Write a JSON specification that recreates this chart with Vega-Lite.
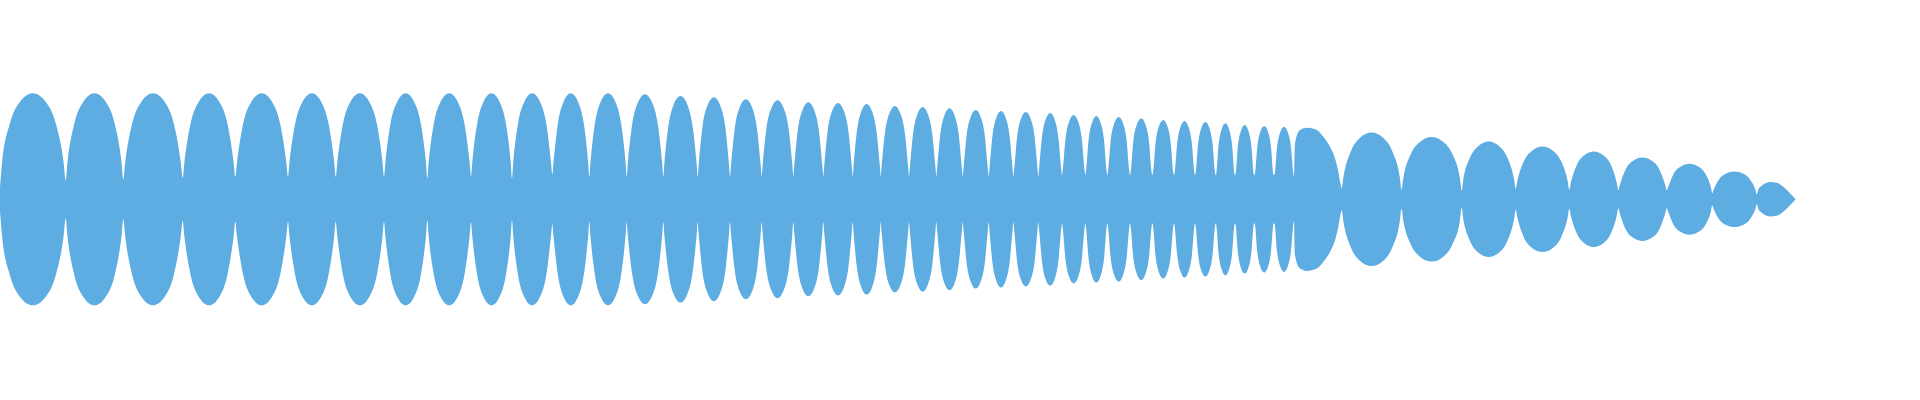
{
  "$schema": "https://vega.github.io/schema/vega-lite/v6.json",
  "width": 1920,
  "height": 400,
  "autosize": {"type": "none"},
  "padding": 0,
  "config": {"view": {"stroke": null}},
  "data": {
    "values": [
      {"x": 0, "amp": 24},
      {"x": 2.0, "amp": 72.3}, {"x": 9.9, "amp": 151.4}, {"x": 19.7, "amp": 194.3}, {"x": 32.9, "amp": 212}, {"x": 46.0, "amp": 194.3}, {"x": 55.8, "amp": 151.4}, {"x": 63.7, "amp": 72.3},
      {"x": 65.7, "amp": 38},
      {"x": 67.4, "amp": 72.3}, {"x": 74.3, "amp": 151.4}, {"x": 83.0, "amp": 194.3}, {"x": 94.5, "amp": 212}, {"x": 106.0, "amp": 194.3}, {"x": 114.7, "amp": 151.4}, {"x": 121.6, "amp": 72.3},
      {"x": 123.3, "amp": 40},
      {"x": 125.1, "amp": 72.3}, {"x": 132.2, "amp": 151.4}, {"x": 141.1, "amp": 194.3}, {"x": 153.0, "amp": 212}, {"x": 164.9, "amp": 194.3}, {"x": 173.8, "amp": 151.4}, {"x": 180.9, "amp": 72.3},
      {"x": 182.7, "amp": 43},
      {"x": 184.3, "amp": 72.3}, {"x": 190.6, "amp": 151.4}, {"x": 198.5, "amp": 194.3}, {"x": 209.0, "amp": 212}, {"x": 219.5, "amp": 194.3}, {"x": 227.4, "amp": 151.4}, {"x": 233.7, "amp": 72.3},
      {"x": 235.3, "amp": 45},
      {"x": 236.9, "amp": 72.3}, {"x": 243.2, "amp": 151.4}, {"x": 251.1, "amp": 194.3}, {"x": 261.7, "amp": 212}, {"x": 272.2, "amp": 194.3}, {"x": 280.1, "amp": 151.4}, {"x": 286.4, "amp": 72.3},
      {"x": 288, "amp": 45},
      {"x": 289.4, "amp": 72.3}, {"x": 295.2, "amp": 151.4}, {"x": 302.3, "amp": 194.3}, {"x": 311.9, "amp": 212}, {"x": 321.4, "amp": 194.3}, {"x": 328.5, "amp": 151.4}, {"x": 334.3, "amp": 72.3},
      {"x": 335.7, "amp": 45},
      {"x": 337.2, "amp": 72.3}, {"x": 343.0, "amp": 151.4}, {"x": 350.2, "amp": 194.3}, {"x": 359.9, "amp": 212}, {"x": 369.5, "amp": 194.3}, {"x": 376.8, "amp": 151.4}, {"x": 382.6, "amp": 72.3},
      {"x": 384, "amp": 45},
      {"x": 385.3, "amp": 72.3}, {"x": 390.5, "amp": 151.4}, {"x": 397.0, "amp": 194.3}, {"x": 405.7, "amp": 212}, {"x": 414.3, "amp": 194.3}, {"x": 420.8, "amp": 151.4}, {"x": 426.0, "amp": 72.3},
      {"x": 427.3, "amp": 42},
      {"x": 428.6, "amp": 72.3}, {"x": 433.9, "amp": 151.4}, {"x": 440.4, "amp": 194.3}, {"x": 449.2, "amp": 212}, {"x": 457.9, "amp": 194.3}, {"x": 464.4, "amp": 151.4}, {"x": 469.7, "amp": 72.3},
      {"x": 471, "amp": 46},
      {"x": 472.2, "amp": 72.3}, {"x": 477.2, "amp": 151.4}, {"x": 483.3, "amp": 194.3}, {"x": 491.5, "amp": 212}, {"x": 499.7, "amp": 194.3}, {"x": 505.9, "amp": 151.4}, {"x": 510.8, "amp": 72.3},
      {"x": 512, "amp": 42},
      {"x": 513.2, "amp": 72.3}, {"x": 518.0, "amp": 151.4}, {"x": 524.1, "amp": 194.3}, {"x": 532.2, "amp": 212}, {"x": 540.2, "amp": 194.3}, {"x": 546.3, "amp": 151.4}, {"x": 551.1, "amp": 72.3},
      {"x": 552.3, "amp": 50},
      {"x": 553.4, "amp": 72.3}, {"x": 557.9, "amp": 151.4}, {"x": 563.4, "amp": 194.3}, {"x": 570.8, "amp": 212}, {"x": 578.2, "amp": 194.3}, {"x": 583.8, "amp": 151.4}, {"x": 588.2, "amp": 72.3},
      {"x": 589.3, "amp": 45},
      {"x": 590.4, "amp": 72.3}, {"x": 594.9, "amp": 151.4}, {"x": 600.5, "amp": 194.3}, {"x": 608.0, "amp": 212}, {"x": 615.5, "amp": 194.3}, {"x": 621.1, "amp": 151.4}, {"x": 625.6, "amp": 72.3},
      {"x": 626.7, "amp": 46},
      {"x": 627.8, "amp": 71.6}, {"x": 632.2, "amp": 149.9}, {"x": 637.7, "amp": 192.5}, {"x": 645.0, "amp": 210}, {"x": 652.3, "amp": 192.5}, {"x": 657.8, "amp": 149.9}, {"x": 662.2, "amp": 71.6},
      {"x": 663.3, "amp": 46},
      {"x": 664.3, "amp": 70.5}, {"x": 668.5, "amp": 147.5}, {"x": 673.6, "amp": 189.3}, {"x": 680.5, "amp": 206.6}, {"x": 687.4, "amp": 189.3}, {"x": 692.5, "amp": 147.5}, {"x": 696.7, "amp": 70.5},
      {"x": 697.7, "amp": 46},
      {"x": 698.7, "amp": 69.6}, {"x": 702.5, "amp": 145.7}, {"x": 707.4, "amp": 187.0}, {"x": 713.9, "amp": 204}, {"x": 720.3, "amp": 187.0}, {"x": 725.2, "amp": 145.7}, {"x": 729.0, "amp": 69.6},
      {"x": 730, "amp": 46},
      {"x": 731.0, "amp": 68.2}, {"x": 734.8, "amp": 142.8}, {"x": 739.5, "amp": 183.3}, {"x": 745.9, "amp": 200}, {"x": 752.2, "amp": 183.3}, {"x": 756.9, "amp": 142.8}, {"x": 760.7, "amp": 68.2},
      {"x": 761.7, "amp": 46},
      {"x": 762.6, "amp": 67.5}, {"x": 766.4, "amp": 141.4}, {"x": 771.2, "amp": 181.5}, {"x": 777.5, "amp": 198}, {"x": 783.8, "amp": 181.5}, {"x": 788.6, "amp": 141.4}, {"x": 792.4, "amp": 67.5},
      {"x": 793.3, "amp": 46},
      {"x": 794.2, "amp": 66.2}, {"x": 797.8, "amp": 138.5}, {"x": 802.3, "amp": 177.8}, {"x": 808.3, "amp": 194}, {"x": 814.3, "amp": 177.8}, {"x": 818.8, "amp": 138.5}, {"x": 822.4, "amp": 66.2},
      {"x": 823.3, "amp": 46},
      {"x": 824.2, "amp": 65.7}, {"x": 827.7, "amp": 137.5}, {"x": 832.1, "amp": 176.5}, {"x": 838.0, "amp": 192.6}, {"x": 843.9, "amp": 176.5}, {"x": 848.3, "amp": 137.5}, {"x": 851.8, "amp": 65.7},
      {"x": 852.7, "amp": 46},
      {"x": 853.5, "amp": 65.0}, {"x": 856.9, "amp": 136.1}, {"x": 861.1, "amp": 174.7}, {"x": 866.7, "amp": 190.6}, {"x": 872.3, "amp": 174.7}, {"x": 876.5, "amp": 136.1}, {"x": 879.9, "amp": 65.0},
      {"x": 880.7, "amp": 46},
      {"x": 881.5, "amp": 63.6}, {"x": 885.0, "amp": 133.2}, {"x": 889.2, "amp": 171.0}, {"x": 894.9, "amp": 186.6}, {"x": 900.5, "amp": 171.0}, {"x": 904.8, "amp": 133.2}, {"x": 908.2, "amp": 63.6},
      {"x": 909, "amp": 46},
      {"x": 909.8, "amp": 62.9}, {"x": 913.1, "amp": 131.8}, {"x": 917.2, "amp": 169.2}, {"x": 922.7, "amp": 184.6}, {"x": 928.1, "amp": 169.2}, {"x": 932.2, "amp": 131.8}, {"x": 935.5, "amp": 62.9},
      {"x": 936.3, "amp": 46},
      {"x": 937.1, "amp": 62.1}, {"x": 940.3, "amp": 130.0}, {"x": 944.2, "amp": 166.8}, {"x": 949.5, "amp": 182}, {"x": 954.8, "amp": 166.8}, {"x": 958.7, "amp": 130.0}, {"x": 961.9, "amp": 62.1},
      {"x": 962.7, "amp": 46},
      {"x": 963.5, "amp": 60.9}, {"x": 966.6, "amp": 127.5}, {"x": 970.5, "amp": 163.7}, {"x": 975.7, "amp": 178.6}, {"x": 980.9, "amp": 163.7}, {"x": 984.8, "amp": 127.5}, {"x": 987.9, "amp": 60.9},
      {"x": 988.7, "amp": 46},
      {"x": 989.4, "amp": 60.2}, {"x": 992.4, "amp": 126.1}, {"x": 996.1, "amp": 161.9}, {"x": 1001.0, "amp": 176.6}, {"x": 1005.9, "amp": 161.9}, {"x": 1009.6, "amp": 126.1}, {"x": 1012.6, "amp": 60.2},
      {"x": 1013.3, "amp": 46},
      {"x": 1014.1, "amp": 59.5}, {"x": 1017.1, "amp": 124.7}, {"x": 1020.8, "amp": 160.0}, {"x": 1025.8, "amp": 174.6}, {"x": 1030.8, "amp": 160.0}, {"x": 1034.6, "amp": 124.7}, {"x": 1037.6, "amp": 59.5},
      {"x": 1038.3, "amp": 46},
      {"x": 1039.0, "amp": 58.9}, {"x": 1041.9, "amp": 123.2}, {"x": 1045.4, "amp": 158.2}, {"x": 1050.2, "amp": 172.6}, {"x": 1054.9, "amp": 158.2}, {"x": 1058.4, "amp": 123.2}, {"x": 1061.3, "amp": 58.9},
      {"x": 1062, "amp": 48},
      {"x": 1062.7, "amp": 57.5}, {"x": 1065.5, "amp": 120.4}, {"x": 1069.0, "amp": 154.5}, {"x": 1073.7, "amp": 168.6}, {"x": 1078.3, "amp": 154.5}, {"x": 1081.8, "amp": 120.4}, {"x": 1084.6, "amp": 57.5},
      {"x": 1085.3, "amp": 48},
      {"x": 1086.0, "amp": 56.8}, {"x": 1088.6, "amp": 119.0}, {"x": 1091.9, "amp": 152.7}, {"x": 1096.3, "amp": 166.6}, {"x": 1100.7, "amp": 152.7}, {"x": 1104.0, "amp": 119.0}, {"x": 1106.6, "amp": 56.8},
      {"x": 1107.3, "amp": 48},
      {"x": 1108.0, "amp": 56.1}, {"x": 1110.7, "amp": 117.5}, {"x": 1114.1, "amp": 150.9}, {"x": 1118.7, "amp": 164.6}, {"x": 1123.2, "amp": 150.9}, {"x": 1126.6, "amp": 117.5}, {"x": 1129.3, "amp": 56.1},
      {"x": 1130, "amp": 48},
      {"x": 1130.7, "amp": 55.2}, {"x": 1133.3, "amp": 115.7}, {"x": 1136.7, "amp": 148.5}, {"x": 1141.2, "amp": 162}, {"x": 1145.6, "amp": 148.5}, {"x": 1149.0, "amp": 115.7}, {"x": 1151.6, "amp": 55.2},
      {"x": 1152.3, "amp": 48},
      {"x": 1153.0, "amp": 54.1}, {"x": 1155.6, "amp": 113.2}, {"x": 1158.8, "amp": 145.4}, {"x": 1163.2, "amp": 158.6}, {"x": 1167.5, "amp": 145.4}, {"x": 1170.7, "amp": 113.2}, {"x": 1173.3, "amp": 54.1},
      {"x": 1174, "amp": 48},
      {"x": 1174.6, "amp": 53.4}, {"x": 1177.2, "amp": 111.8}, {"x": 1180.3, "amp": 143.5}, {"x": 1184.5, "amp": 156.6}, {"x": 1188.7, "amp": 143.5}, {"x": 1191.9, "amp": 111.8}, {"x": 1194.4, "amp": 53.4},
      {"x": 1195, "amp": 48},
      {"x": 1195.6, "amp": 52.7}, {"x": 1198.1, "amp": 110.4}, {"x": 1201.2, "amp": 141.7}, {"x": 1205.4, "amp": 154.6}, {"x": 1209.5, "amp": 141.7}, {"x": 1212.6, "amp": 110.4}, {"x": 1215.1, "amp": 52.7},
      {"x": 1215.7, "amp": 48},
      {"x": 1216.3, "amp": 51.8}, {"x": 1218.6, "amp": 108.5}, {"x": 1221.5, "amp": 139.3}, {"x": 1225.4, "amp": 152}, {"x": 1229.2, "amp": 139.3}, {"x": 1232.1, "amp": 108.5}, {"x": 1234.4, "amp": 51.8},
      {"x": 1235, "amp": 48},
      {"x": 1235.6, "amp": 50.7}, {"x": 1237.9, "amp": 106.1}, {"x": 1240.8, "amp": 136.2}, {"x": 1244.7, "amp": 148.6}, {"x": 1248.5, "amp": 136.2}, {"x": 1251.4, "amp": 106.1}, {"x": 1253.7, "amp": 50.7},
      {"x": 1254.3, "amp": 48},
      {"x": 1254.9, "amp": 50.0}, {"x": 1257.3, "amp": 104.7}, {"x": 1260.2, "amp": 134.4}, {"x": 1264.2, "amp": 146.6}, {"x": 1268.1, "amp": 134.4}, {"x": 1271.0, "amp": 104.7}, {"x": 1273.4, "amp": 50.0},
      {"x": 1274, "amp": 48},
      {"x": 1274.6, "amp": 49.5}, {"x": 1277.0, "amp": 103.7}, {"x": 1280.0, "amp": 133.1}, {"x": 1284.0, "amp": 145.2}, {"x": 1288.0, "amp": 133.1}, {"x": 1291.0, "amp": 103.7}, {"x": 1293.4, "amp": 49.5},
      {"x": 1294, "amp": 44},
      {"x": 1295, "amp": 112}, {"x": 1300, "amp": 138.6}, {"x": 1306.7, "amp": 143.2}, {"x": 1316.7, "amp": 138.6}, {"x": 1323.3, "amp": 125.2},
      {"x": 1330, "amp": 105.2}, {"x": 1335, "amp": 82}, {"x": 1338.3, "amp": 55.2}, {"x": 1340.7, "amp": 28.6},
      {"x": 1341.7, "amp": 22},
      {"x": 1343.5, "amp": 45.5}, {"x": 1350.7, "amp": 95.2}, {"x": 1359.6, "amp": 122.3}, {"x": 1371.6, "amp": 133.4}, {"x": 1383.6, "amp": 122.3}, {"x": 1392.5, "amp": 95.2}, {"x": 1399.7, "amp": 45.5},
      {"x": 1401.5, "amp": 19},
      {"x": 1403.3, "amp": 42.5}, {"x": 1410.5, "amp": 89.0}, {"x": 1419.6, "amp": 114.2}, {"x": 1431.6, "amp": 124.6}, {"x": 1443.6, "amp": 114.2}, {"x": 1452.7, "amp": 89.0}, {"x": 1459.9, "amp": 42.5},
      {"x": 1461.7, "amp": 17},
      {"x": 1463.3, "amp": 39.4}, {"x": 1469.8, "amp": 82.4}, {"x": 1477.9, "amp": 105.8}, {"x": 1488.7, "amp": 115.4}, {"x": 1499.5, "amp": 105.8}, {"x": 1507.6, "amp": 82.4}, {"x": 1514.1, "amp": 39.4},
      {"x": 1515.7, "amp": 21},
      {"x": 1517.3, "amp": 36.0}, {"x": 1523.7, "amp": 75.4}, {"x": 1531.8, "amp": 96.8}, {"x": 1542.5, "amp": 105.6}, {"x": 1553.2, "amp": 96.8}, {"x": 1561.3, "amp": 75.4}, {"x": 1567.7, "amp": 36.0},
      {"x": 1569.3, "amp": 19},
      {"x": 1570.8, "amp": 32.5}, {"x": 1576.7, "amp": 68.1}, {"x": 1584.0, "amp": 87.4}, {"x": 1593.8, "amp": 95.4}, {"x": 1603.6, "amp": 87.4}, {"x": 1611.0, "amp": 68.1}, {"x": 1616.8, "amp": 32.5},
      {"x": 1618.3, "amp": 18},
      {"x": 1619.8, "amp": 28.5}, {"x": 1625.6, "amp": 59.7}, {"x": 1632.8, "amp": 76.6}, {"x": 1642.5, "amp": 83.6}, {"x": 1652.2, "amp": 76.6}, {"x": 1659.4, "amp": 59.7}, {"x": 1665.2, "amp": 28.5},
      {"x": 1666.7, "amp": 18},
      {"x": 1668.1, "amp": 24.2}, {"x": 1673.5, "amp": 50.7}, {"x": 1680.4, "amp": 65.1}, {"x": 1689.5, "amp": 71}, {"x": 1698.6, "amp": 65.1}, {"x": 1705.5, "amp": 50.7}, {"x": 1710.9, "amp": 24.2},
      {"x": 1712.3, "amp": 12},
      {"x": 1713.6, "amp": 19.0}, {"x": 1719.0, "amp": 39.7}, {"x": 1725.6, "amp": 51.0}, {"x": 1734.5, "amp": 55.6}, {"x": 1743.4, "amp": 51.0}, {"x": 1750.0, "amp": 39.7}, {"x": 1755.4, "amp": 19.0},
      {"x": 1756.7, "amp": 10},
      {"x": 1758.5, "amp": 20}, {"x": 1761.7, "amp": 27}, {"x": 1766.7, "amp": 33}, {"x": 1770, "amp": 34.6}, {"x": 1776.7, "amp": 33},
      {"x": 1783.3, "amp": 25}, {"x": 1790, "amp": 12}, {"x": 1795.7, "amp": 0}
    ]
  },
  "mark": {"type": "area", "interpolate": "monotone", "color": "#5DADE2"},
  "encoding": {
    "x": {
      "field": "x",
      "type": "quantitative",
      "axis": null,
      "scale": {"domain": [0, 1920], "nice": false, "zero": false}
    },
    "y": {
      "field": "amp",
      "type": "quantitative",
      "stack": "center",
      "axis": null,
      "scale": {"domain": [-94.7, 305.3], "nice": false, "zero": false}
    }
  }
}
